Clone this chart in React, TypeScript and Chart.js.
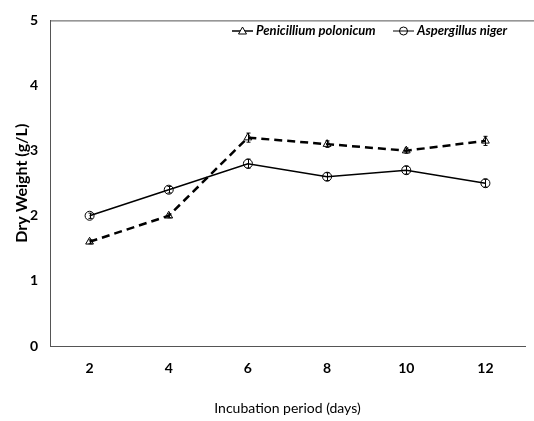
import React, { useEffect, useRef } from "react";
import { Chart, registerables } from "chart.js";

Chart.register(...registerables);

const days = ["2", "4", "6", "8", "10", "12"];
const penicillium = [1.6, 2.0, 3.2, 3.1, 3.0, 3.15];
const penicilliumErr = [0.03, 0.03, 0.07, 0.05, 0.04, 0.07];
const aspergillus = [2.0, 2.4, 2.8, 2.6, 2.7, 2.5];
const aspergillusErr = [0.04, 0.05, 0.07, 0.06, 0.06, 0.06];
const seriesNames = ["Penicillium polonicum", "Aspergillus niger"];
const errors = [penicilliumErr, aspergillusErr];

const FONT = "Lato, 'DejaVu Sans', sans-serif";
const AXIS = "#555555";

const extrasPlugin = {
  id: "extras",
  afterDatasetsDraw(chart: any) {
    const { ctx, chartArea } = chart;
    const yScale = chart.scales.y;
    ctx.save();
    // top border
    ctx.strokeStyle = AXIS;
    ctx.lineWidth = 1;
    ctx.beginPath();
    ctx.moveTo(chartArea.left, chartArea.top + 0.5);
    ctx.lineTo(chart.width, chartArea.top + 0.5);
    ctx.stroke();
    // error bars
    ctx.strokeStyle = "#000";
    ctx.lineWidth = 1;
    chart.data.datasets.forEach((ds: any, i: number) => {
      const meta = chart.getDatasetMeta(i);
      meta.data.forEach((pt: any, j: number) => {
        const v = ds.data[j];
        const e = errors[i][j];
        const y1 = yScale.getPixelForValue(v + e);
        const y2 = yScale.getPixelForValue(v - e);
        const x = Math.round(pt.x) + 0.5;
        ctx.beginPath();
        ctx.moveTo(x, y1);
        ctx.lineTo(x, y2);
        ctx.moveTo(x - 2, y1);
        ctx.lineTo(x + 2, y1);
        ctx.moveTo(x - 2, y2);
        ctx.lineTo(x + 2, y2);
        ctx.stroke();
      });
    });
    // legend
    const ly = 31;
    const items = [
      { x: 232, style: "triangle", lw: 1.5 },
      { x: 393, style: "circle", lw: 1 },
    ];
    ctx.font = `italic bold 13px ${FONT}`;
    ctx.textBaseline = "middle";
    ctx.fillStyle = "#000";
    items.forEach((it, i) => {
      ctx.strokeStyle = "#000";
      ctx.lineWidth = it.lw;
      ctx.beginPath();
      ctx.moveTo(it.x, ly);
      ctx.lineTo(it.x + 21, ly);
      ctx.stroke();
      ctx.lineWidth = 1;
      const cx = it.x + 10.5;
      ctx.beginPath();
      if (it.style === "triangle") {
        ctx.moveTo(cx, ly - 4);
        ctx.lineTo(cx + 4, ly + 3);
        ctx.lineTo(cx - 4, ly + 3);
        ctx.closePath();
        ctx.fillStyle = "#fff";
        ctx.fill();
      } else {
        ctx.arc(cx, ly, 4, 0, Math.PI * 2);
      }
      ctx.stroke();
      ctx.fillStyle = "#000";
      ctx.fillText(seriesNames[i], it.x + 24, ly);
    });
    ctx.restore();
  },
};

export default function App() {
  const ref = useRef<HTMLCanvasElement | null>(null);
  useEffect(() => {
    if (!ref.current) return;
    const chart = new Chart(ref.current, {
      type: "line",
      data: {
        labels: days,
        datasets: [
          {
            label: seriesNames[0],
            data: penicillium,
            borderColor: "#000",
            borderWidth: 2.5,
            borderDash: [8, 5],
            pointStyle: "triangle",
            pointRadius: 4.5,
            pointBorderWidth: 1,
            pointBorderColor: "#000",
            pointBackgroundColor: "rgba(255,255,255,0)",
            tension: 0,
          },
          {
            label: seriesNames[1],
            data: aspergillus,
            borderColor: "#000",
            borderWidth: 1.5,
            pointStyle: "circle",
            pointRadius: 4.5,
            pointBorderWidth: 1,
            pointBorderColor: "#000",
            pointBackgroundColor: "rgba(255,255,255,0)",
            tension: 0,
          },
        ],
      },
      options: {
        animation: false,
        responsive: false,
        maintainAspectRatio: false,
        layout: { padding: { left: 0, top: 11, right: 9, bottom: 0 } },
        plugins: {
          legend: { display: false },
          tooltip: { enabled: false },
        },
        scales: {
          x: {
            type: "category",
            offset: true,
            grid: { display: false, drawTicks: false },
            border: { display: true, color: AXIS, width: 1 },
            ticks: {
              color: "#000",
              padding: 14,
              font: { family: FONT, size: 14, weight: "bold" },
            },
            title: {
              display: true,
              text: "Incubation period (days)",
              color: "#000",
              font: { family: FONT, size: 14 },
              padding: { top: 0, bottom: 4.6 },
            },
            afterFit: (s: any) => {
              s.height = 75;
            },
          },
          y: {
            min: 0,
            max: 5,
            grid: { display: false, drawTicks: false },
            border: { display: true, color: AXIS, width: 1 },
            ticks: {
              stepSize: 1,
              color: "#000",
              padding: 12,
              font: { family: FONT, size: 14, weight: "bold" },
            },
            title: {
              display: true,
              text: "Dry Weight (g/L)",
              color: "#000",
              font: { family: FONT, size: 16, weight: "bold" },
              padding: { top: 12.4, bottom: 0 },
            },
            afterFit: (s: any) => {
              s.width = 50;
            },
          },
        },
      },
      plugins: [extrasPlugin],
    });
    return () => chart.destroy();
  }, []);
  return (
    <div style={{ position: "fixed", left: 0, top: 0, width: 534, height: 421, background: "#fff" }}>
      <canvas ref={ref} width={534} height={421} style={{ width: 534, height: 421 }} />
    </div>
  );
}
